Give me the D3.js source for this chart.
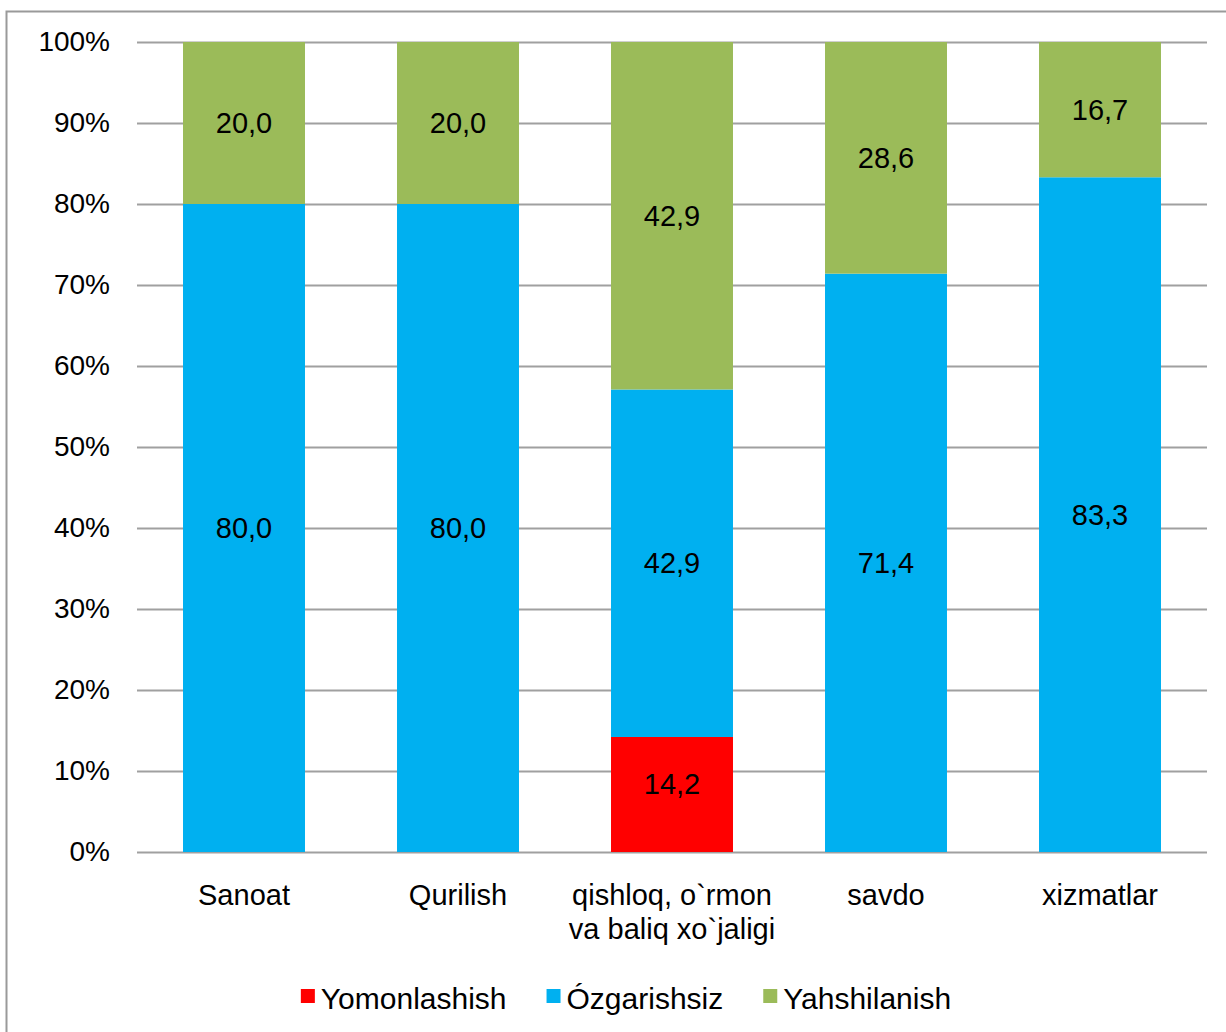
<!DOCTYPE html>
<html>
<head>
<meta charset="utf-8">
<script src="https://cdn.jsdelivr.net/npm/d3@7"></script>
<style>
  body { margin: 0; background: #fff; }
  text { font-family: "Liberation Sans", Arial, sans-serif; fill: #000; }
</style>
</head>
<body>
<div id="chart"></div>
<script>
// Categories (line breaks mark wrapped labels)
const categories = ["Sanoat", "Qurilish", "qishloq, o`rmon\nva baliq xo`jaligi", "savdo", "xizmatlar"];
const seriesNames = ["Yomonlashish", "Ózgarishsiz", "Yahshilanish"];
const yomonlashish = [0, 0, 14.2, 0, 0];
const ozgarishsiz = [80.0, 80.0, 42.9, 71.4, 83.3];
const yahshilanish = [20.0, 20.0, 42.9, 28.6, 16.7];
const yTicks = [0, 10, 20, 30, 40, 50, 60, 70, 80, 90, 100];
const colors = ["#FF0000", "#00B0F0", "#9BBB59"];

const W = 1226, H = 1032;
const margin = { top: 42, right: 19, bottom: 180, left: 137 };

const svg = d3.select("#chart").append("svg")
    .attr("width", W)
    .attr("height", H);

// Outer chart border
svg.append("rect")
    .attr("x", 6.5).attr("y", 11.5)
    .attr("width", W + 20).attr("height", H + 20)
    .attr("fill", "none")
    .attr("stroke", "#9a9a9a")
    .attr("stroke-width", 2);

const rows = categories.map((c, i) => ({
    cat: c,
    Yomonlashish: yomonlashish[i],
    "Ózgarishsiz": ozgarishsiz[i],
    Yahshilanish: yahshilanish[i]
}));

const stacked = d3.stack().keys(seriesNames)(rows);

const x = d3.scaleBand()
    .domain(categories)
    .range([margin.left, W - margin.right])
    .paddingInner(0.43)
    .paddingOuter(0.215);

const y = d3.scaleLinear()
    .domain([0, 100])
    .range([H - margin.bottom, margin.top]);

// Gridlines
svg.append("g")
    .selectAll("line")
    .data(yTicks)
    .enter().append("line")
    .attr("x1", margin.left)
    .attr("x2", W - margin.right)
    .attr("y1", d => Math.round(y(d)) + 0.5)
    .attr("y2", d => Math.round(y(d)) + 0.5)
    .attr("stroke", "#a0a0a0")
    .attr("stroke-width", 2);

// Y axis labels
svg.append("g")
    .attr("transform", "translate(" + (margin.left - 27) + ",0)")
    .call(d3.axisLeft(y).tickValues(yTicks).tickSize(0).tickFormat(d => d + "%"))
    .call(g => g.select(".domain").remove())
    .selectAll(".tick text")
    .attr("x", 0)
    .style("font-family", "'Liberation Sans', Arial, sans-serif")
    .style("font-size", "28px")
    .attr("fill", "#000");

// Bars
const layer = svg.selectAll(".layer")
    .data(stacked)
    .enter().append("g")
    .attr("class", "layer")
    .attr("fill", (d, i) => colors[i]);

layer.selectAll("rect")
    .data(d => d.filter(s => s[1] - s[0] > 0))
    .enter().append("rect")
    .attr("x", d => x(d.data.cat))
    .attr("y", d => y(d[1]))
    .attr("width", x.bandwidth())
    .attr("height", d => y(d[0]) - y(d[1]));

// Data labels
layer.selectAll("text")
    .data(d => d.filter(s => s[1] - s[0] > 0))
    .enter().append("text")
    .attr("x", d => x(d.data.cat) + x.bandwidth() / 2)
    .attr("y", d => y((d[0] + d[1]) / 2) - (d[0] === 0 && d[1] < 20 ? 11 : 0))
    .attr("dy", "0.35em")
    .attr("text-anchor", "middle")
    .style("font-size", "29px")
    .text(d => (d[1] - d[0]).toFixed(1).replace(".", ","));

// Category labels
const catG = svg.append("g");
categories.forEach(c => {
    const t = catG.append("text")
        .attr("text-anchor", "middle")
        .attr("x", x(c) + x.bandwidth() / 2)
        .attr("y", H - margin.bottom + 53)
        .style("font-size", "29px");
    c.split("\n").forEach((line, j) => {
        t.append("tspan")
            .attr("x", x(c) + x.bandwidth() / 2)
            .attr("dy", j === 0 ? 0 : 34)
            .text(line);
    });
});

// Legend
const legend = svg.append("g");
let lx = 0;
seriesNames.forEach((name, i) => {
    const g = legend.append("g");
    g.append("rect")
        .attr("y", -20)
        .attr("width", 14).attr("height", 14)
        .attr("fill", colors[i]);
    const t = g.append("text")
        .attr("x", 20)
        .attr("y", 0)
        .style("font-size", "30px")
        .text(name);
    const w = 20 + t.node().getComputedTextLength();
    g.attr("transform", "translate(" + lx + ",0)");
    lx += w + 40;
});
const legendWidth = lx - 40;
legend.attr("transform", "translate(" + (626 - legendWidth / 2) + ",1009)");
</script>
</body>
</html>
